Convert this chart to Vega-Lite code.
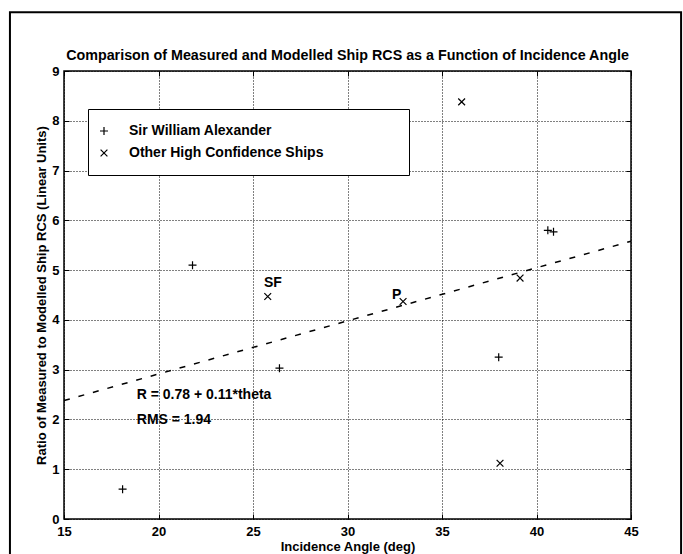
{
  "$schema": "https://vega.github.io/schema/vega-lite/v6.json",
  "width": 567,
  "height": 448,
  "autosize": "none",
  "padding": {"left": 64, "top": 71, "right": 52, "bottom": 35},
  "background": "white",
  "title": {
    "text": "Comparison of Measured and Modelled Ship RCS as a Function of Incidence Angle",
    "font": "Liberation Sans",
    "fontSize": 14.3,
    "fontWeight": "bold",
    "color": "black",
    "offset": -52
  },
  "config": {
    "view": {"stroke": "black", "strokeWidth": 1.5},
    "font": "Liberation Sans",
    "axis": {
      "labelFont": "Liberation Sans",
      "labelFontSize": 13,
      "labelFontWeight": "bold",
      "labelColor": "black",
      "titleFont": "Liberation Sans",
      "titleFontSize": 13,
      "titleFontWeight": "bold",
      "titleColor": "black",
      "domain": false,
      "tickColor": "black",
      "tickWidth": 1,
      "gridColor": "black",
      "gridOpacity": 1,
      "gridDash": [1, 2],
      "gridWidth": 1
    }
  },
  "datasets": {
    "points": [
      {"angle": 18.1, "ratio": 0.6, "series": "Sir William Alexander"},
      {"angle": 21.8, "ratio": 5.1, "series": "Sir William Alexander"},
      {"angle": 26.4, "ratio": 3.03, "series": "Sir William Alexander"},
      {"angle": 38.0, "ratio": 3.25, "series": "Sir William Alexander"},
      {"angle": 40.6, "ratio": 5.8, "series": "Sir William Alexander"},
      {"angle": 40.9, "ratio": 5.77, "series": "Sir William Alexander"},
      {"angle": 36.04, "ratio": 8.38, "series": "Other High Confidence Ships"},
      {"angle": 25.78, "ratio": 4.47, "series": "Other High Confidence Ships"},
      {"angle": 32.94, "ratio": 4.37, "series": "Other High Confidence Ships"},
      {"angle": 39.13, "ratio": 4.84, "series": "Other High Confidence Ships"},
      {"angle": 38.07, "ratio": 1.12, "series": "Other High Confidence Ships"}
    ],
    "fit": [
      {"angle": 15, "ratio": 2.38},
      {"angle": 45, "ratio": 5.58}
    ],
    "labels": [
      {"angle": 26.05, "ratio": 4.74, "text": "SF"},
      {"angle": 32.6, "ratio": 4.5, "text": "P"}
    ],
    "equation": [
      {"angle": 18.85, "ratio": 2.5, "text": "R = 0.78 + 0.11*theta"},
      {"angle": 18.85, "ratio": 1.98, "text": "RMS = 1.94"}
    ],
    "frame": [
      {"x1": 12.14, "x2": 47.65, "y1": 10.18, "y2": -0.9}
    ]
  },
  "resolve": {"axis": {"x": "independent", "y": "independent"}},
  "layer": [
    {
      "data": {"name": "points"},
      "mark": {"type": "point", "filled": false, "stroke": "black", "strokeWidth": 1.2, "size": 64, "opacity": 1},
      "encoding": {
        "x": {
          "field": "angle", "type": "quantitative",
          "scale": {"domain": [15, 45], "nice": false, "zero": false},
          "axis": {
            "values": [15, 20, 25, 30, 35, 40, 45],
            "grid": true,
            "labelFlush": false,
            "tickSize": -5,
            "labelPadding": 11,
            "title": "Incidence Angle (deg)",
            "titlePadding": 2
          }
        },
        "y": {
          "field": "ratio", "type": "quantitative",
          "scale": {"domain": [0, 9], "nice": false, "zero": false},
          "axis": {
            "values": [0, 1, 2, 3, 4, 5, 6, 7, 8, 9],
            "grid": true,
            "labelFlush": false,
            "tickSize": -5,
            "labelPadding": 10,
            "title": "Ratio of Measured to Modelled Ship RCS (Linear Units)",
            "titlePadding": 3
          }
        },
        "shape": {
          "field": "series", "type": "nominal",
          "scale": {
            "domain": ["Sir William Alexander", "Other High Confidence Ships"],
            "range": ["M-1,0L1,0M0,-1L0,1", "M-0.85,-0.85L0.85,0.85M-0.85,0.85L0.85,-0.85"]
          },
          "legend": {
            "orient": "none",
            "legendX": 24,
            "legendY": 38,
            "title": null,
            "strokeColor": "black",
            "fillColor": "white",
            "padding": 15,
            "symbolOffset": -6,
            "symbolSize": 64,
            "symbolStrokeColor": "black",
            "symbolStrokeWidth": 1.2,
            "symbolFillColor": "transparent",
            "labelFont": "Liberation Sans",
            "labelFontSize": 14,
            "labelFontWeight": "bold",
            "labelColor": "black",
            "labelLimit": 500,
            "labelOffset": 18,
            "rowPadding": 8,
            "labelExpr": "datum.label + '\u2800\u2800\u2800\u2800\u2800\u2800\u2800'",
            "encode": {"legend": {"update": {"strokeWidth": {"value": 1.5}}}}
          }
        }
      }
    },
    {
      "mark": {"type": "rule", "stroke": "black", "strokeWidth": 2},
      "encoding": {"y": {"datum": 1, "type": "quantitative", "axis": null}}
    },
    {
      "data": {"name": "fit"},
      "mark": {"type": "line", "stroke": "black", "strokeWidth": 1.5, "strokeDash": [6, 9]},
      "encoding": {
        "x": {"field": "angle", "type": "quantitative",
          "axis": {"orient": "top", "values": [15, 20, 25, 30, 35, 40, 45], "labels": false, "grid": false, "tickSize": -5, "title": null}},
        "y": {"field": "ratio", "type": "quantitative",
          "axis": {"orient": "right", "values": [0, 1, 2, 3, 4, 5, 6, 7, 8, 9], "labels": false, "grid": false, "tickSize": -5, "title": null}}
      }
    },
    {
      "data": {"name": "labels"},
      "mark": {"type": "text", "font": "Liberation Sans", "fontSize": 14, "fontWeight": "bold", "color": "black", "baseline": "middle", "align": "center"},
      "encoding": {
        "x": {"field": "angle", "type": "quantitative", "axis": null},
        "y": {"field": "ratio", "type": "quantitative", "axis": null},
        "text": {"field": "text"}
      }
    },
    {
      "data": {"name": "equation"},
      "mark": {"type": "text", "font": "Liberation Sans", "fontSize": 14, "fontWeight": "bold", "color": "black", "baseline": "middle", "align": "left"},
      "encoding": {
        "x": {"field": "angle", "type": "quantitative", "axis": null},
        "y": {"field": "ratio", "type": "quantitative", "axis": null},
        "text": {"field": "text"}
      }
    },
    {
      "data": {"name": "frame"},
      "mark": {"type": "rect", "fill": "transparent", "stroke": "black", "strokeWidth": 2, "clip": false},
      "encoding": {
        "x": {"field": "x1", "type": "quantitative", "axis": null},
        "x2": {"field": "x2"},
        "y": {"field": "y1", "type": "quantitative", "axis": null},
        "y2": {"field": "y2"}
      }
    }
  ]
}
